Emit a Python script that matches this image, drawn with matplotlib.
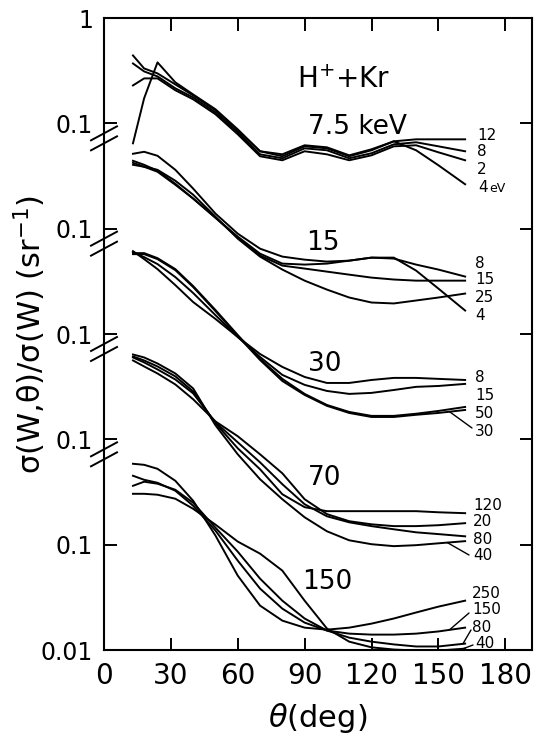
import numpy as np
import matplotlib.pyplot as plt
from matplotlib.ticker import NullLocator

# scattering angle grid (deg), shared by all curves
theta = [13, 18, 24, 32, 40, 50, 60, 70, 80, 90, 100, 110, 120, 130, 140, 150, 162]

# 7.5 keV, electron energies 12, 8, 2, 4 eV  (sr^-1)
e7_12 = [0.441, 0.332, 0.298, 0.234, 0.184, 0.133, 0.0858, 0.0543, 0.0487, 0.0605, 0.0579, 0.0487, 0.0555, 0.0675, 0.0705, 0.0705, 0.0705]
e7_8 = [0.370, 0.311, 0.279, 0.215, 0.176, 0.127, 0.0822, 0.0508, 0.0466, 0.0579, 0.0555, 0.0466, 0.0520, 0.0632, 0.0661, 0.0605, 0.0543]
e7_2 = [0.229, 0.267, 0.267, 0.206, 0.169, 0.122, 0.0787, 0.0487, 0.0446, 0.0543, 0.0508, 0.0446, 0.0497, 0.0605, 0.0619, 0.0531, 0.0446]
e7_4 = [0.0646, 0.173, 0.379, 0.245, 0.188, 0.136, 0.0877, 0.0543, 0.0508, 0.0619, 0.0592, 0.0497, 0.0567, 0.0675, 0.0555, 0.0400, 0.0264]

# 15 keV: 8, 15, 25, 4 eV
e15_8 = [0.514, 0.537, 0.492, 0.362, 0.240, 0.139, 0.0897, 0.0646, 0.0543, 0.0508, 0.0487, 0.0497, 0.0531, 0.0520, 0.0456, 0.0409, 0.0351]
e15_15 = [0.422, 0.387, 0.347, 0.261, 0.193, 0.127, 0.0822, 0.0555, 0.0446, 0.0418, 0.0391, 0.0366, 0.0343, 0.0329, 0.0321, 0.0321, 0.0321]
e15_25 = [0.404, 0.387, 0.362, 0.285, 0.210, 0.130, 0.0804, 0.0543, 0.0409, 0.0321, 0.0264, 0.0222, 0.0199, 0.0195, 0.0208, 0.0222, 0.0242]
e15_4 = [0.441, 0.404, 0.355, 0.267, 0.193, 0.127, 0.0840, 0.0579, 0.0466, 0.0456, 0.0466, 0.0497, 0.0531, 0.0531, 0.0400, 0.0270, 0.0167]

# 30 keV: 8, 15, 50, 30 eV
e30_8 = [0.612, 0.514, 0.413, 0.291, 0.201, 0.139, 0.0937, 0.0646, 0.0487, 0.0391, 0.0343, 0.0343, 0.0366, 0.0383, 0.0383, 0.0375, 0.0366]
e30_15 = [0.599, 0.537, 0.461, 0.347, 0.245, 0.151, 0.0937, 0.0605, 0.0409, 0.0329, 0.0288, 0.0270, 0.0276, 0.0294, 0.0315, 0.0321, 0.0336]
e30_50 = [0.586, 0.586, 0.525, 0.413, 0.285, 0.169, 0.0978, 0.0579, 0.0375, 0.0270, 0.0212, 0.0182, 0.0167, 0.0167, 0.0175, 0.0186, 0.0203]
e30_30 = [0.573, 0.573, 0.514, 0.404, 0.279, 0.165, 0.0957, 0.0567, 0.0358, 0.0264, 0.0208, 0.0178, 0.0163, 0.0163, 0.0171, 0.0178, 0.0190]

# 70 keV: 120, 20, 80, 40 eV
e70_120 = [0.612, 0.561, 0.492, 0.396, 0.285, 0.142, 0.0822, 0.0520, 0.0301, 0.0227, 0.0208, 0.0208, 0.0208, 0.0208, 0.0208, 0.0203, 0.0199]
e70_20 = [0.561, 0.492, 0.422, 0.332, 0.240, 0.148, 0.107, 0.0721, 0.0476, 0.0270, 0.0195, 0.0167, 0.0156, 0.0150, 0.0150, 0.0153, 0.0160]
e70_80 = [0.599, 0.537, 0.461, 0.370, 0.273, 0.145, 0.0937, 0.0605, 0.0375, 0.0242, 0.0186, 0.0163, 0.0150, 0.0140, 0.0131, 0.0126, 0.0120]
e70_40 = [0.639, 0.599, 0.525, 0.422, 0.304, 0.136, 0.0721, 0.0418, 0.0270, 0.0182, 0.0134, 0.0110, 0.0101, 0.00968, 0.00989, 0.0103, 0.0108]

# 150 keV: 250, 150, 80, 40 eV
e150_250 = [0.586, 0.573, 0.525, 0.404, 0.261, 0.122, 0.0508, 0.0264, 0.0190, 0.0163, 0.0156, 0.0163, 0.0178, 0.0199, 0.0227, 0.0258, 0.0294]
e150_150 = [0.451, 0.413, 0.387, 0.325, 0.234, 0.136, 0.0705, 0.0383, 0.0247, 0.0182, 0.0153, 0.0143, 0.0140, 0.0140, 0.0143, 0.0150, 0.0163]
e150_80 = [0.362, 0.396, 0.379, 0.332, 0.250, 0.145, 0.0858, 0.0476, 0.0294, 0.0199, 0.0153, 0.0131, 0.0120, 0.0113, 0.0108, 0.0108, 0.0115]
e150_40 = [0.304, 0.304, 0.298, 0.273, 0.219, 0.155, 0.107, 0.0822, 0.0567, 0.0294, 0.0160, 0.0120, 0.0106, 0.0101, 0.00989, 0.00989, 0.0103]

# each panel is shifted up by a number of decades
panels = [
    ("7.5 keV", 4, [e7_12, e7_8, e7_2, e7_4]),
    ("15", 3, [e15_8, e15_15, e15_25, e15_4]),
    ("30", 2, [e30_8, e30_15, e30_50, e30_30]),
    ("70", 1, [e70_120, e70_20, e70_80, e70_40]),
    ("150", 0, [e150_250, e150_150, e150_80, e150_40]),
]

W, H = 537, 742
fig = plt.figure(figsize=(W / 100, H / 100), dpi=100)
ax = fig.add_axes([104 / W, 92 / H, 428 / W, 632 / H])

for name, shift, curves in panels:
    for vals in curves:
        ax.plot(theta, np.array(vals) * 10.0 ** shift, "k-", lw=1.4,
                solid_joinstyle="round")

ax.set_yscale("log")
ax.set_ylim(1e-2, 1e4)
ax.set_xlim(0, 192)
ax.set_yticks([1e-2, 1e-1, 1, 10, 100, 1000, 1e4],
              labels=["0.01", "0.1", "0.1", "0.1", "0.1", "0.1", "1"])
ax.yaxis.set_minor_locator(NullLocator())
ax.set_xticks(range(0, 181, 30))
ax.tick_params(axis="y", direction="in", length=9, width=1.4, right=True,
               labelsize=17, pad=8)
ax.tick_params(axis="x", direction="in", length=9, width=1.4, top=True,
               labelsize=20, pad=9)
for s in ax.spines.values():
    s.set_linewidth(1.5)

# axis break marks just below each 0.1 tick
for tk in [1000, 100, 10, 1]:
    yf = (np.log10(tk) - 15 / 105.3 + 2) / 6
    for dy in (-5, 5):
        ax.plot([-13 / 428, 13 / 428], [yf + (dy - 7) / 632, yf + (dy + 7) / 632],
                transform=ax.transAxes, color="k", lw=1.4, clip_on=False)


def ftext(x, y, s, **kw):
    fig.text(x / W, 1 - y / H, s, **kw)


ftext(30, 334, "σ(W,θ)/σ(W) (sr$^{-1}$)", rotation=90, ha="center",
      va="center", fontsize=22)
ftext(318, 718, r"$\theta$(deg)", ha="center", va="center", fontsize=22)

ftext(344, 80, "H$^{+}$+Kr", ha="center", va="center", fontsize=20)
ftext(357, 127, "7.5 keV", ha="center", va="center", fontsize=19)
ftext(323, 243, "15", ha="center", va="center", fontsize=19)
ftext(325, 364, "30", ha="center", va="center", fontsize=19)
ftext(325, 478, "70", ha="center", va="center", fontsize=19)
ftext(327, 582, "150", ha="center", va="center", fontsize=19)

# electron energy labels at the right
right_labels = [
    (477, 135, "12"), (477, 152, "8"), (477, 169, "2"), (478, 187, "4"),
    (475, 263, "8"), (475, 280, "15"), (475, 298, "25"), (475, 315, "4"),
    (475, 378, "8"), (475, 396, "15"), (475, 414, "50"), (475, 431, "30"),
    (473, 505, "120"), (473, 522, "20"), (473, 539, "80"), (473, 556, "40"),
    (472, 593, "250"), (472, 610, "150"), (472, 627, "80"), (475, 644, "40"),
]
for x, y, s in right_labels:
    ftext(x, y, s, ha="left", va="center", fontsize=11)
ftext(489, 189, "eV", ha="left", va="center", fontsize=9)

# short leader lines from labels to curves
leaders = [
    (e30_30, 2, 155, (472, 428)),
    (e70_40, 1, 154, (469, 555)),
    (e150_150, 0, 155, (469, 613)),
    (e150_80, 0, 161, (471, 630)),
    (e150_40, 0, 161, (473, 645)),
]
for vals, shift, th, (px, py) in leaders:
    yv = np.interp(th, theta, vals) * 10.0 ** shift
    ax.annotate("", xy=(th, yv), xytext=(px, H - py), textcoords="figure pixels",
                arrowprops=dict(arrowstyle="-", lw=1.0, shrinkA=0, shrinkB=0))

fig.savefig("out.png", dpi=100)
